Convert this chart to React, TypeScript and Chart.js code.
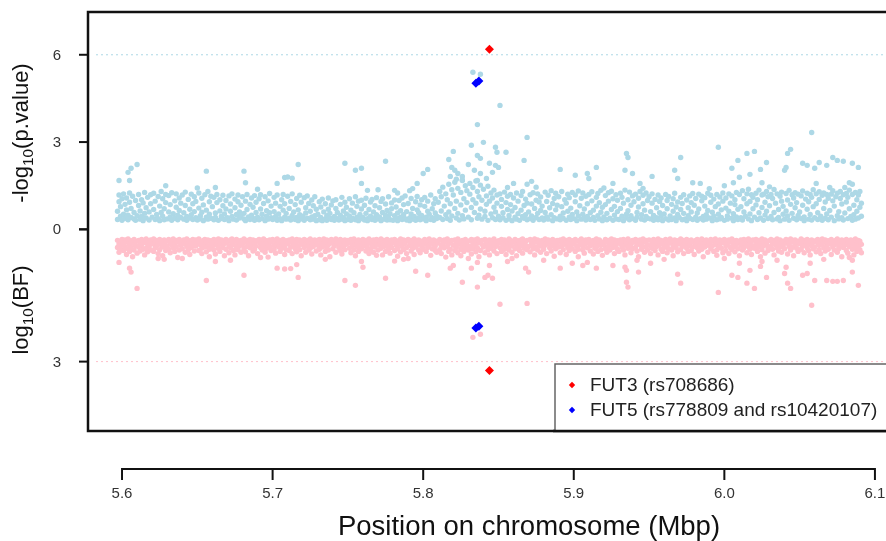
import { useEffect, useRef } from 'react';
import { Chart, registerables } from 'chart.js';
Chart.register(...registerables);

const CW = 900;
const CH = 541;

// axis ticks
const xTicks = [5.6, 5.7, 5.8, 5.9, 6.0, 6.1];
const xTickLabels = ['5.6', '5.7', '5.8', '5.9', '6.0', '6.1'];
const pTicks = [0, 3, 6];
const bfTicks = [0, 3];

// -log10(p) : flat pairs [position (kbp), value]
const pBand = [
  5597,0.34, 5597,0.62, 5598,0.95, 5598,1.18, 5599,0.45, 5599,0.78, 5600,0.31, 5600,1.05,
  5601,0.52, 5601,1.22, 5602,0.38, 5602,0.86, 5603,0.67, 5603,1.08, 5604,0.33, 5604,0.49, 5605,0.93, 5605,1.25, 5606,0.41, 5606,0.72, 5607,1.14, 5608,0.36, 5608,0.58, 5609,0.99, 5609,0.31,
  5610,0.47, 5611,1.2, 5611,0.82, 5612,0.35, 5612,0.63, 5613,1.02, 5613,0.44, 5614,0.3, 5614,0.91, 5615,1.27, 5615,0.55, 5616,0.39, 5616,0.74, 5617,1.1, 5618,0.32, 5618,0.6, 5619,0.88, 5619,1.19,
  5620,0.42, 5621,0.68, 5621,1.24, 5622,0.34, 5622,0.97, 5623,0.51, 5624,1.13, 5624,0.37, 5625,0.8, 5625,0.3, 5626,1.3, 5626,0.58, 5627,0.45, 5627,1.05, 5628,0.33, 5628,0.71, 5629,0.92, 5629,1.2,
  5630,0.36, 5631,0.6, 5631,1.16, 5632,0.43, 5632,0.85, 5633,0.31, 5633,1.26, 5634,0.54, 5635,0.98, 5635,0.38, 5636,0.76, 5636,1.22, 5637,0.33, 5637,0.49, 5638,1.08, 5638,0.65, 5639,0.41, 5639,0.9,
  5640,1.18, 5641,0.35, 5641,0.57, 5642,0.82, 5642,1.28, 5643,0.44, 5643,0.31, 5644,1.03, 5645,0.69, 5645,0.39, 5646,1.21, 5646,0.5, 5647,0.34, 5647,0.88, 5648,1.12, 5648,0.61, 5649,0.4, 5649,0.96,
  5650,0.32, 5651,0.73, 5651,1.25, 5652,0.47, 5652,0.36, 5653,1.07, 5653,0.59, 5654,0.3, 5654,0.84, 5655,1.19, 5656,0.42, 5656,0.66, 5657,1.3, 5657,0.35, 5658,0.95, 5658,0.52, 5659,1.14, 5659,0.38,
  5660,0.78, 5661,0.33, 5661,1.1, 5662,0.56, 5662,0.41, 5663,0.92, 5663,1.2, 5664,0.31, 5665,0.63, 5665,1.02, 5666,0.45, 5666,0.37, 5667,0.81, 5667,1.17, 5668,0.53, 5668,0.34, 5669,0.99, 5669,0.7,
  5670,0.4, 5671,1.15, 5671,0.3, 5672,0.62, 5672,0.87, 5673,0.44, 5673,1.22, 5674,0.35, 5675,0.74, 5675,1.04, 5676,0.51, 5676,0.32, 5677,0.95, 5677,1.18, 5678,0.39, 5678,0.6, 5679,0.83, 5679,0.46,
  5680,1.12, 5681,0.36, 5681,0.55, 5682,0.97, 5682,0.3, 5683,0.68, 5683,1.2, 5684,0.43, 5685,0.86, 5685,0.34, 5686,1.08, 5686,0.49, 5687,0.38, 5687,0.76, 5688,1.16, 5688,0.31, 5689,0.58, 5689,0.93,
  5690,0.42, 5691,1.05, 5691,0.33, 5692,0.7, 5692,1.19, 5693,0.37, 5693,0.52, 5694,0.89, 5695,0.3, 5695,1.12, 5696,0.64, 5696,0.45, 5697,0.98, 5697,0.35, 5698,1.23, 5698,0.57, 5699,0.4, 5699,0.8,
  5700,0.34, 5701,1.1, 5701,0.61, 5702,0.44, 5702,0.9, 5703,0.31, 5703,1.18, 5704,0.53, 5705,0.37, 5705,0.79, 5706,1.02, 5706,0.3, 5707,0.66, 5707,1.2, 5708,0.42, 5708,0.88, 5709,0.35, 5709,0.55,
  5710,1.14, 5711,0.38, 5711,0.72, 5712,0.96, 5712,0.32, 5713,0.48, 5713,1.22, 5714,0.6, 5715,0.34, 5715,0.85, 5716,1.06, 5716,0.41, 5717,0.3, 5717,0.67, 5718,1.17, 5718,0.5, 5719,0.36, 5719,0.93,
  5720,0.45, 5721,1.09, 5721,0.31, 5722,0.74, 5722,0.56, 5723,0.38, 5723,1.15, 5724,0.89, 5725,0.33, 5725,0.62, 5726,1.01, 5726,0.43, 5727,0.35, 5727,0.81, 5728,1.12, 5728,0.47, 5729,0.3, 5729,0.69,
  5730,0.52, 5731,0.95, 5731,0.33, 5732,0.41, 5732,0.77, 5733,1.04, 5733,0.3, 5734,0.6, 5735,0.36, 5735,0.88, 5736,0.47, 5736,0.31, 5737,1.08, 5737,0.69, 5738,0.39, 5738,0.55, 5739,0.84, 5739,0.34,
  5740,0.98, 5741,0.44, 5741,0.31, 5742,0.72, 5742,1.02, 5743,0.37, 5743,0.58, 5744,0.32, 5745,0.86, 5745,0.49, 5746,0.35, 5746,1.1, 5747,0.63, 5747,0.4, 5748,0.3, 5748,0.93, 5749,0.53, 5749,0.76,
  5750,0.34, 5751,1.05, 5751,0.46, 5752,0.31, 5752,0.66, 5753,0.9, 5753,0.38, 5754,0.57, 5755,1.12, 5755,0.33, 5756,0.79, 5756,0.42, 5757,0.3, 5757,0.97, 5758,0.51, 5758,0.36, 5759,0.7, 5759,1.0,
  5760,0.41, 5761,0.32, 5761,0.83, 5762,1.07, 5762,0.55, 5763,0.37, 5763,0.3, 5764,0.68, 5765,0.94, 5765,0.45, 5766,0.34, 5766,1.03, 5767,0.6, 5767,0.39, 5768,0.81, 5768,0.31, 5769,0.5, 5769,1.09,
  5770,0.36, 5771,0.74, 5771,0.43, 5772,0.96, 5772,0.3, 5773,0.58, 5773,1.05, 5774,0.35, 5775,0.48, 5775,0.87, 5776,0.32, 5776,0.65, 5777,1.12, 5777,0.4, 5778,0.54, 5778,0.33, 5779,0.91, 5779,0.71,
  5780,0.31, 5781,1.01, 5781,0.47, 5782,0.38, 5782,0.77, 5783,0.56, 5783,0.3, 5784,0.99, 5785,0.42, 5785,0.64, 5786,1.08, 5786,0.34, 5787,0.85, 5787,0.5, 5788,0.37, 5788,1.15, 5789,0.61, 5789,0.32,
  5790,0.89, 5791,0.39, 5791,0.3, 5792,1.06, 5792,0.53, 5793,0.72, 5793,0.35, 5794,0.44, 5795,0.95, 5795,0.31, 5796,0.67, 5796,1.13, 5797,0.4, 5797,0.57, 5798,0.84, 5798,0.33, 5799,1.02, 5799,0.48,
  5800,0.36, 5801,0.79, 5801,1.1, 5802,0.42, 5802,0.3, 5803,0.62, 5803,0.97, 5804,0.52, 5805,0.34, 5805,1.18, 5806,0.71, 5806,0.4, 5807,0.88, 5807,0.31, 5808,0.56, 5808,1.05, 5809,0.45, 5809,0.37,
  5810,0.93, 5811,1.3, 5811,0.41, 5812,0.63, 5812,1.12, 5813,0.34, 5813,1.45, 5814,0.8, 5815,0.5, 5815,1.22, 5816,0.37, 5816,1.02, 5817,1.55, 5817,0.6, 5818,0.31, 5818,0.88, 5819,1.36, 5819,0.46,
  5820,1.18, 5821,0.72, 5821,1.62, 5822,0.39, 5822,0.97, 5823,1.41, 5823,0.55, 5824,0.32, 5825,1.27, 5825,0.84, 5826,1.7, 5826,0.47, 5827,1.05, 5827,0.36, 5828,1.5, 5828,0.66, 5829,0.92, 5829,1.33,
  5830,0.42, 5831,1.21, 5831,1.58, 5832,0.75, 5832,0.33, 5833,1.44, 5833,1.02, 5834,0.58, 5835,1.66, 5835,0.9, 5836,0.38, 5836,1.3, 5837,1.12, 5837,0.49, 5838,1.52, 5838,0.7, 5839,0.35, 5839,1.0,
  5840,1.38, 5841,0.62, 5841,0.44, 5842,1.15, 5842,0.86, 5843,1.48, 5843,0.31, 5844,0.97, 5845,1.25, 5845,0.53, 5846,0.4, 5846,1.08, 5847,0.76, 5847,1.35, 5848,0.34, 5848,0.6, 5849,1.18, 5849,0.9,
  5850,0.45, 5851,1.22, 5851,0.33, 5852,0.79, 5852,1.03, 5853,0.4, 5853,0.57, 5854,1.28, 5855,0.31, 5855,0.92, 5856,0.68, 5856,1.14, 5857,0.36, 5857,0.48, 5858,0.85, 5858,1.2, 5859,0.3, 5859,0.63,
  5860,1.08, 5861,0.42, 5861,0.75, 5862,1.25, 5862,0.35, 5863,0.54, 5863,0.97, 5864,0.31, 5865,1.16, 5865,0.66, 5866,0.44, 5866,1.3, 5867,0.82, 5867,0.38, 5868,1.04, 5868,0.5, 5869,0.33, 5869,0.9,
  5870,0.6, 5871,1.19, 5871,0.37, 5872,0.87, 5872,0.46, 5873,1.26, 5873,0.31, 5874,0.72, 5875,1.0, 5875,0.41, 5876,0.55, 5876,1.22, 5877,0.34, 5877,0.94, 5878,0.65, 5878,1.11, 5879,0.39, 5879,0.8,
  5880,0.32, 5881,1.28, 5881,0.58, 5882,0.43, 5882,0.96, 5883,1.17, 5883,0.35, 5884,0.74, 5885,1.33, 5885,0.5, 5886,0.3, 5886,0.89, 5887,1.06, 5887,0.4, 5888,0.67, 5888,1.24, 5889,0.36, 5889,0.83,
  5890,1.12, 5891,0.45, 5891,0.33, 5892,0.78, 5892,1.3, 5893,0.56, 5893,0.38, 5894,1.02, 5895,0.31, 5895,0.9, 5896,1.21, 5896,0.62, 5897,0.42, 5897,1.09, 5898,0.34, 5898,0.73, 5899,1.27, 5899,0.51,
  5900,0.37, 5901,0.95, 5901,1.18, 5902,0.3, 5902,0.6, 5903,1.32, 5903,0.46, 5904,0.81, 5905,0.35, 5905,1.07, 5906,0.52, 5906,1.25, 5907,0.39, 5907,0.7, 5908,1.14, 5908,0.32, 5909,0.88, 5909,0.44,
  5910,1.2, 5911,0.57, 5911,0.34, 5912,0.98, 5912,1.29, 5913,0.41, 5913,0.66, 5914,0.31, 5915,1.1, 5915,0.8, 5916,0.47, 5916,1.23, 5917,0.36, 5917,0.92, 5918,0.59, 5918,1.34, 5919,0.3, 5919,0.76,
  5920,0.43, 5921,1.16, 5921,0.85, 5922,0.33, 5922,0.55, 5923,1.26, 5923,0.97, 5924,0.38, 5925,0.68, 5925,1.31, 5926,0.31, 5926,1.05, 5927,0.49, 5927,0.79, 5928,1.19, 5928,0.36, 5929,0.61, 5929,1.0,
  5930,0.34, 5931,1.24, 5931,0.72, 5932,0.45, 5932,1.1, 5933,0.3, 5933,0.9, 5934,1.35, 5935,0.52, 5935,0.39, 5936,1.02, 5936,0.64, 5937,1.28, 5937,0.33, 5938,0.83, 5938,0.47, 5939,1.15, 5939,0.37,
  5940,0.95, 5941,0.31, 5941,1.21, 5942,0.58, 5942,0.42, 5943,1.07, 5943,0.77, 5944,1.3, 5945,0.35, 5945,0.5, 5946,0.88, 5946,1.17, 5947,0.32, 5947,0.66, 5948,1.25, 5948,0.44, 5949,0.99, 5949,0.38,
  5950,1.12, 5951,0.36, 5951,0.61, 5952,0.9, 5952,1.22, 5953,0.31, 5953,0.48, 5954,1.03, 5955,0.74, 5955,0.4, 5956,1.18, 5956,0.33, 5957,0.57, 5957,0.96, 5958,1.08, 5958,0.45, 5959,0.3, 5959,0.82,
  5960,0.53, 5961,1.2, 5961,0.37, 5962,0.71, 5962,0.99, 5963,0.32, 5963,1.13, 5964,0.46, 5965,0.86, 5965,0.34, 5966,1.05, 5966,0.62, 5967,0.39, 5967,1.24, 5968,0.3, 5968,0.77, 5969,0.51, 5969,0.94,
  5970,0.41, 5971,1.1, 5971,0.68, 5972,0.33, 5972,0.89, 5973,1.19, 5973,0.55, 5974,0.36, 5975,1.01, 5975,0.3, 5976,0.74, 5976,0.47, 5977,1.15, 5977,0.38, 5978,0.6, 5978,0.92, 5979,1.23, 5979,0.34,
  5980,0.83, 5981,0.42, 5981,1.06, 5982,0.31, 5982,0.56, 5983,1.21, 5983,0.7, 5984,0.37, 5985,0.98, 5985,1.14, 5986,0.44, 5986,0.32, 5987,0.8, 5987,1.09, 5988,0.5, 5988,0.35, 5989,1.24, 5989,0.65,
  5990,0.39, 5991,0.93, 5991,1.17, 5992,0.3, 5992,0.59, 5993,1.04, 5993,0.45, 5994,0.78, 5995,0.33, 5995,1.2, 5996,0.52, 5996,0.87, 5997,0.36, 5997,1.11, 5998,0.67, 5998,0.41, 5999,0.97, 5999,1.25,
  6000,0.31, 6001,0.73, 6001,1.08, 6002,0.46, 6002,0.35, 6003,1.22, 6003,0.62, 6004,0.9, 6005,0.38, 6005,1.15, 6006,0.54, 6006,0.3, 6007,0.85, 6007,1.02, 6008,0.43, 6008,1.27, 6009,0.34, 6009,0.69,
  6010,1.2, 6011,0.4, 6011,0.78, 6012,1.33, 6012,0.32, 6013,0.6, 6013,1.05, 6014,0.45, 6015,1.22, 6015,0.88, 6016,0.36, 6016,1.38, 6017,0.53, 6017,0.96, 6018,1.19, 6018,0.3, 6019,0.71, 6019,1.1,
  6020,0.42, 6021,1.24, 6021,0.84, 6022,0.34, 6022,1.02, 6023,0.57, 6023,1.35, 6024,0.39, 6025,1.18, 6025,0.75, 6026,0.31, 6026,1.21, 6027,0.49, 6027,0.93, 6028,1.3, 6028,0.62, 6029,0.37, 6029,1.12,
  6030,0.81, 6031,1.2, 6031,0.44, 6032,0.33, 6032,1.06, 6033,1.37, 6033,0.58, 6034,0.9, 6035,0.36, 6035,1.22, 6036,0.68, 6036,0.41, 6037,1.14, 6037,0.3, 6038,0.97, 6038,1.28, 6039,0.52, 6039,0.79,
  6040,0.35, 6041,1.23, 6041,0.63, 6042,0.46, 6042,1.01, 6043,1.34, 6043,0.31, 6044,0.86, 6045,1.19, 6045,0.55, 6046,0.38, 6046,1.08, 6047,0.74, 6047,1.26, 6048,0.33, 6048,0.92, 6049,1.21, 6049,0.48,
  6050,0.6, 6051,1.15, 6051,0.37, 6052,0.83, 6052,1.32, 6053,0.43, 6053,0.3, 6054,1.04, 6055,1.24, 6055,0.69, 6056,0.35, 6056,0.95, 6057,1.2, 6057,0.51, 6058,0.32, 6058,1.1, 6059,0.78, 6059,1.36,
  6060,0.4, 6061,1.22, 6061,0.88, 6062,0.34, 6062,0.57, 6063,1.29, 6063,1.03, 6064,0.45, 6065,0.31, 6065,1.17, 6066,0.72, 6066,1.25, 6067,0.38, 6067,0.94, 6068,1.2, 6068,0.53, 6069,0.33, 6069,1.07,
  6070,0.65, 6071,1.21, 6071,0.42, 6072,0.98, 6072,1.33, 6073,0.3, 6073,0.8, 6074,1.12, 6075,0.47, 6075,1.24, 6076,0.36, 6076,0.61, 6077,1.06, 6077,1.3, 6078,0.4, 6078,0.87, 6079,1.19, 6079,0.32,
  6080,0.56, 6081,1.23, 6081,0.94, 6082,0.37, 6082,1.1, 6083,0.71, 6083,1.35, 6084,0.44, 6085,0.31, 6085,1.2, 6086,0.83, 6086,0.5, 6087,1.27, 6087,0.35, 6088,1.02, 6088,0.62, 6089,1.18, 6089,0.39, 6090,0.76, 6090,1.3, 6091,0.45, 6091,0.9,
];

const pTail = [
  5598,1.68, 5604,1.96, 5606,2.1, 5610,2.23, 5605,1.68, 5629,1.5, 5650,1.42, 5656,2.0, 5662,1.44, 5681,2.0, 5682,1.6, 5690,1.38,
  5703,1.58, 5708,1.78, 5710,1.8, 5713,1.76, 5717,2.23, 5748,2.27, 5755,2.03, 5759,2.1, 5759,1.58, 5763,1.34, 5770,1.36, 5775,2.34,
  5781,1.34, 5783,1.25, 5791,1.33, 5793,1.4, 5796,1.58, 5800,1.92, 5803,2.06, 5817,2.4, 5819,2.13, 5821,2.03, 5823,1.92, 5826,1.82,
  5818,1.82, 5822,1.72, 5826,1.68, 5820,2.68, 5830,2.23, 5832,2.89, 5834,2.03, 5838,1.92, 5836,2.54, 5838,2.44, 5836,3.6, 5840,2.99,
  5844,2.27, 5848,2.2, 5850,2.13, 5848,2.82, 5849,2.65, 5851,4.26, 5855,2.65, 5842,1.75, 5846,1.96, 5836,1.68, 5856,1.44, 5860,1.58,
  5867,2.37, 5869,3.16, 5869,1.55, 5872,1.65, 5875,1.45, 5891,2.06, 5901,1.86, 5909,1.92, 5910,1.75, 5915,2.13, 5920,1.42, 5926,1.58,
  5934,2.03, 5939,1.92, 5935,2.61, 5936,2.47, 5944,1.58, 5946,1.41, 5952,1.82, 5967,2.03, 5969,1.75, 5971,2.47, 5979,1.6, 5984,1.58,
  5990,1.4, 5996,2.82, 6000,1.5, 6005,2.1, 6009,2.37, 6015,2.61, 6020,2.68, 6010,1.79, 6017,1.89, 6024,2.06, 6028,2.3, 6006,1.6,
  6025,1.6, 6030,1.46, 6042,2.61, 6044,2.75, 6040,2.03, 6041,2.13, 6052,2.27, 6055,2.2, 6060,2.1, 6063,2.3, 6068,2.2, 6070,1.44,
  6072,2.47, 6075,2.37, 6079,2.34, 6085,2.27, 6089,2.13, 6058,3.33, 6061,1.58, 6080,1.44, 6083,1.6, 6085,1.55, 5833,5.4, 5838,5.33,
];

// log10(BF) : flat pairs [position (kbp), value]
const bfBand = [
  5597,0.25, 5597,0.41, 5598,0.33, 5598,0.52, 5599,0.27, 5599,0.46, 5600,0.36, 5600,0.23,
  5601,0.3, 5601,0.48, 5602,0.24, 5602,0.39, 5603,0.57, 5603,0.28, 5604,0.44, 5604,0.22, 5605,0.35, 5605,0.5, 5606,0.26, 5606,0.41, 5607,0.62, 5607,0.31, 5608,0.23, 5608,0.47, 5609,0.37, 5609,0.28,
  5610,0.54, 5611,0.25, 5611,0.4, 5612,0.32, 5612,0.49, 5613,0.23, 5613,0.36, 5614,0.45, 5614,0.27, 5615,0.58, 5615,0.3, 5616,0.22, 5616,0.43, 5617,0.34, 5617,0.51, 5618,0.26, 5618,0.39, 5619,0.24, 5619,0.47,
  5620,0.33, 5621,0.22, 5621,0.5, 5622,0.29, 5622,0.42, 5623,0.25, 5623,0.37, 5624,0.55, 5624,0.31, 5625,0.23, 5625,0.46, 5626,0.35, 5626,0.27, 5627,0.6, 5627,0.4, 5628,0.24, 5628,0.32, 5629,0.48, 5629,0.28,
  5630,0.38, 5631,0.23, 5631,0.45, 5632,0.3, 5632,0.53, 5633,0.26, 5633,0.35, 5634,0.42, 5634,0.22, 5635,0.5, 5635,0.33, 5636,0.25, 5636,0.4, 5637,0.64, 5637,0.29, 5638,0.23, 5638,0.47, 5639,0.36, 5639,0.27,
  5640,0.44, 5641,0.24, 5641,0.32, 5642,0.52, 5642,0.28, 5643,0.39, 5643,0.22, 5644,0.46, 5644,0.34, 5645,0.26, 5645,0.57, 5646,0.3, 5646,0.41, 5647,0.23, 5647,0.36, 5648,0.49, 5648,0.27, 5649,0.38, 5649,0.24,
  5650,0.31, 5651,0.48, 5651,0.22, 5652,0.35, 5652,0.27, 5653,0.43, 5653,0.55, 5654,0.25, 5654,0.33, 5655,0.4, 5655,0.23, 5656,0.51, 5656,0.29, 5657,0.37, 5657,0.24, 5658,0.45, 5658,0.62, 5659,0.3, 5659,0.26,
  5660,0.39, 5661,0.23, 5661,0.47, 5662,0.31, 5662,0.56, 5663,0.26, 5663,0.36, 5664,0.22, 5664,0.43, 5665,0.29, 5665,0.5, 5666,0.24, 5666,0.34, 5667,0.41, 5667,0.27, 5668,0.6, 5668,0.32, 5669,0.23, 5669,0.45,
  5670,0.28, 5671,0.37, 5671,0.53, 5672,0.24, 5672,0.42, 5673,0.3, 5673,0.22, 5674,0.48, 5674,0.35, 5675,0.26, 5675,0.58, 5676,0.4, 5676,0.23, 5677,0.33, 5677,0.46, 5678,0.27, 5678,0.38, 5679,0.25, 5679,0.52,
  5680,0.34, 5681,0.22, 5681,0.44, 5682,0.29, 5682,0.51, 5683,0.25, 5683,0.39, 5684,0.32, 5684,0.6, 5685,0.23, 5685,0.42, 5686,0.36, 5686,0.27, 5687,0.49, 5687,0.24, 5688,0.31, 5688,0.45, 5689,0.26, 5689,0.38,
  5690,0.55, 5691,0.28, 5691,0.23, 5692,0.41, 5692,0.33, 5693,0.47, 5693,0.25, 5694,0.37, 5694,0.22, 5695,0.52, 5695,0.3, 5696,0.26, 5696,0.43, 5697,0.34, 5697,0.63, 5698,0.24, 5698,0.39, 5699,0.29, 5699,0.48,
  5700,0.23, 5701,0.36, 5701,0.45, 5702,0.27, 5702,0.54, 5703,0.32, 5703,0.22, 5704,0.4, 5704,0.28, 5705,0.5, 5705,0.25, 5706,0.35, 5706,0.43, 5707,0.23, 5707,0.3, 5708,0.57, 5708,0.38, 5709,0.26, 5709,0.46,
  5710,0.33, 5711,0.24, 5711,0.48, 5712,0.29, 5712,0.4, 5713,0.22, 5713,0.55, 5714,0.36, 5714,0.26, 5715,0.44, 5715,0.31, 5716,0.23, 5716,0.51, 5717,0.38, 5717,0.27, 5718,0.46, 5718,0.24, 5719,0.34, 5719,0.6,
  5720,0.28, 5721,0.41, 5721,0.23, 5722,0.52, 5722,0.33, 5723,0.25, 5723,0.37, 5724,0.47, 5724,0.29, 5725,0.22, 5725,0.43, 5726,0.35, 5726,0.56, 5727,0.26, 5727,0.39, 5728,0.24, 5728,0.31, 5729,0.49, 5729,0.27,
  5730,0.36, 5731,0.23, 5731,0.45, 5732,0.3, 5732,0.58, 5733,0.25, 5733,0.4, 5734,0.33, 5734,0.22, 5735,0.5, 5735,0.28, 5736,0.42, 5736,0.24, 5737,0.35, 5737,0.47, 5738,0.26, 5738,0.62, 5739,0.31, 5739,0.23,
  5740,0.44, 5741,0.27, 5741,0.37, 5742,0.22, 5742,0.52, 5743,0.32, 5743,0.25, 5744,0.41, 5744,0.29, 5745,0.48, 5745,0.23, 5746,0.35, 5746,0.56, 5747,0.26, 5747,0.39, 5748,0.24, 5748,0.46, 5749,0.3, 5749,0.34,
  5750,0.25, 5751,0.43, 5751,0.31, 5752,0.53, 5752,0.23, 5753,0.37, 5753,0.27, 5754,0.47, 5754,0.22, 5755,0.34, 5755,0.6, 5756,0.29, 5756,0.4, 5757,0.24, 5757,0.5, 5758,0.32, 5758,0.26, 5759,0.44, 5759,0.36,
  5760,0.23, 5761,0.38, 5761,0.28, 5762,0.49, 5762,0.25, 5763,0.42, 5763,0.33, 5764,0.55, 5764,0.22, 5765,0.3, 5765,0.45, 5766,0.26, 5766,0.36, 5767,0.24, 5767,0.52, 5768,0.4, 5768,0.29, 5769,0.34, 5769,0.23,
  5770,0.47, 5771,0.27, 5771,0.35, 5772,0.22, 5772,0.43, 5773,0.31, 5773,0.58, 5774,0.25, 5774,0.39, 5775,0.28, 5775,0.5, 5776,0.23, 5776,0.37, 5777,0.45, 5777,0.26, 5778,0.33, 5778,0.54, 5779,0.24, 5779,0.41,
  5780,0.3, 5781,0.48, 5781,0.23, 5782,0.36, 5782,0.27, 5783,0.44, 5783,0.61, 5784,0.25, 5784,0.34, 5785,0.22, 5785,0.51, 5786,0.39, 5786,0.29, 5787,0.24, 5787,0.46, 5788,0.32, 5788,0.26, 5789,0.42, 5789,0.55,
  5790,0.23, 5791,0.37, 5791,0.28, 5792,0.49, 5792,0.25, 5793,0.33, 5793,0.43, 5794,0.22, 5794,0.57, 5795,0.3, 5795,0.4, 5796,0.26, 5796,0.35, 5797,0.47, 5797,0.24, 5798,0.31, 5798,0.53, 5799,0.27, 5799,0.38,
  5800,0.45, 5801,0.23, 5801,0.34, 5802,0.28, 5802,0.5, 5803,0.25, 5803,0.41, 5804,0.36, 5804,0.22, 5805,0.59, 5805,0.3, 5806,0.26, 5806,0.44, 5807,0.33, 5807,0.24, 5808,0.48, 5808,0.38, 5809,0.27, 5809,0.52,
  5810,0.31, 5811,0.23, 5811,0.46, 5812,0.37, 5812,0.55, 5813,0.26, 5813,0.34, 5814,0.42, 5814,0.24, 5815,0.63, 5815,0.29, 5816,0.39, 5816,0.22, 5817,0.5, 5817,0.32, 5818,0.27, 5818,0.45, 5819,0.58, 5819,0.25,
  5820,0.36, 5821,0.24, 5821,0.48, 5822,0.3, 5822,0.41, 5823,0.22, 5823,0.53, 5824,0.34, 5824,0.27, 5825,0.45, 5825,0.6, 5826,0.25, 5826,0.38, 5827,0.31, 5827,0.5, 5828,0.23, 5828,0.43, 5829,0.35, 5829,0.28,
  5830,0.47, 5831,0.26, 5831,0.39, 5832,0.23, 5832,0.56, 5833,0.33, 5833,0.44, 5834,0.28, 5834,0.24, 5835,0.51, 5835,0.36, 5836,0.22, 5836,0.42, 5837,0.3, 5837,0.62, 5838,0.27, 5838,0.48, 5839,0.34, 5839,0.25,
  5840,0.4, 5841,0.23, 5841,0.53, 5842,0.32, 5842,0.27, 5843,0.46, 5843,0.37, 5844,0.24, 5844,0.58, 5845,0.3, 5845,0.43, 5846,0.25, 5846,0.35, 5847,0.49, 5847,0.22, 5848,0.39, 5848,0.28, 5849,0.55, 5849,0.33,
  5850,0.26, 5851,0.42, 5851,0.31, 5852,0.23, 5852,0.5, 5853,0.36, 5853,0.27, 5854,0.45, 5854,0.24, 5855,0.34, 5855,0.57, 5856,0.29, 5856,0.4, 5857,0.22, 5857,0.47, 5858,0.33, 5858,0.25, 5859,0.38, 5859,0.52,
  5860,0.28, 5861,0.44, 5861,0.23, 5862,0.35, 5862,0.6, 5863,0.26, 5863,0.41, 5864,0.31, 5864,0.48, 5865,0.24, 5865,0.37, 5866,0.22, 5866,0.54, 5867,0.3, 5867,0.43, 5868,0.27, 5868,0.36, 5869,0.25, 5869,0.46,
  5870,0.39, 5871,0.23, 5871,0.51, 5872,0.32, 5872,0.26, 5873,0.44, 5873,0.35, 5874,0.22, 5874,0.58, 5875,0.29, 5875,0.41, 5876,0.24, 5876,0.47, 5877,0.34, 5877,0.27, 5878,0.52, 5878,0.38, 5879,0.25, 5879,0.31,
  5880,0.45, 5881,0.22, 5881,0.36, 5882,0.28, 5882,0.55, 5883,0.33, 5883,0.24, 5884,0.42, 5884,0.3, 5885,0.49, 5885,0.26, 5886,0.38, 5886,0.23, 5887,0.61, 5887,0.35, 5888,0.27, 5888,0.44, 5889,0.32, 5889,0.25,
  5890,0.4, 5891,0.24, 5891,0.53, 5892,0.3, 5892,0.37, 5893,0.22, 5893,0.46, 5894,0.34, 5894,0.27, 5895,0.57, 5895,0.25, 5896,0.41, 5896,0.31, 5897,0.23, 5897,0.48, 5898,0.36, 5898,0.28, 5899,0.44, 5899,0.26,
  5900,0.33, 5901,0.5, 5901,0.23, 5902,0.39, 5902,0.27, 5903,0.45, 5903,0.62, 5904,0.25, 5904,0.35, 5905,0.3, 5905,0.22, 5906,0.47, 5906,0.38, 5907,0.26, 5907,0.54, 5908,0.32, 5908,0.24, 5909,0.42, 5909,0.29,
  5910,0.23, 5911,0.37, 5911,0.49, 5912,0.27, 5912,0.34, 5913,0.56, 5913,0.25, 5914,0.43, 5914,0.3, 5915,0.22, 5915,0.4, 5916,0.33, 5916,0.5, 5917,0.26, 5917,0.24, 5918,0.46, 5918,0.36, 5919,0.29, 5919,0.59,
  5920,0.35, 5921,0.23, 5921,0.44, 5922,0.28, 5922,0.52, 5923,0.25, 5923,0.38, 5924,0.31, 5924,0.47, 5925,0.22, 5925,0.34, 5926,0.41, 5926,0.27, 5927,0.55, 5927,0.24, 5928,0.37, 5928,0.3, 5929,0.45, 5929,0.26,
  5930,0.5, 5931,0.24, 5931,0.33, 5932,0.4, 5932,0.28, 5933,0.23, 5933,0.47, 5934,0.36, 5934,0.58, 5935,0.26, 5935,0.31, 5936,0.43, 5936,0.22, 5937,0.38, 5937,0.27, 5938,0.53, 5938,0.34, 5939,0.25, 5939,0.44,
  5940,0.29, 5941,0.41, 5941,0.23, 5942,0.49, 5942,0.35, 5943,0.26, 5943,0.62, 5944,0.32, 5944,0.24, 5945,0.45, 5945,0.38, 5946,0.22, 5946,0.3, 5947,0.52, 5947,0.27, 5948,0.4, 5948,0.25, 5949,0.35, 5949,0.47,
  5950,0.24, 5951,0.37, 5951,0.55, 5952,0.28, 5952,0.43, 5953,0.23, 5953,0.33, 5954,0.48, 5954,0.26, 5955,0.39, 5955,0.3, 5956,0.22, 5956,0.58, 5957,0.35, 5957,0.27, 5958,0.45, 5958,0.25, 5959,0.32, 5959,0.5,
  5960,0.41, 5961,0.23, 5961,0.29, 5962,0.53, 5962,0.36, 5963,0.25, 5963,0.44, 5964,0.31, 5964,0.22, 5965,0.47, 5965,0.27, 5966,0.38, 5966,0.6, 5967,0.24, 5967,0.34, 5968,0.42, 5968,0.28, 5969,0.51, 5969,0.26,
  5970,0.33, 5971,0.22, 5971,0.46, 5972,0.3, 5972,0.39, 5973,0.25, 5973,0.55, 5974,0.35, 5974,0.27, 5975,0.43, 5975,0.23, 5976,0.5, 5976,0.31, 5977,0.26, 5977,0.37, 5978,0.24, 5978,0.48, 5979,0.4, 5979,0.29,
  5980,0.57, 5981,0.25, 5981,0.34, 5982,0.42, 5982,0.23, 5983,0.3, 5983,0.49, 5984,0.27, 5984,0.37, 5985,0.22, 5985,0.45, 5986,0.33, 5986,0.62, 5987,0.26, 5987,0.4, 5988,0.28, 5988,0.24, 5989,0.52, 5989,0.36,
  5990,0.31, 5991,0.44, 5991,0.23, 5992,0.38, 5992,0.27, 5993,0.5, 5993,0.25, 5994,0.34, 5994,0.22, 5995,0.47, 5995,0.59, 5996,0.29, 5996,0.4, 5997,0.24, 5997,0.35, 5998,0.43, 5998,0.26, 5999,0.53, 5999,0.3,
  6000,0.23, 6001,0.37, 6001,0.48, 6002,0.27, 6002,0.32, 6003,0.55, 6003,0.24, 6004,0.41, 6004,0.29, 6005,0.22, 6005,0.46, 6006,0.35, 6006,0.26, 6007,0.51, 6007,0.39, 6008,0.25, 6008,0.33, 6009,0.44, 6009,0.28,
  6010,0.6, 6011,0.24, 6011,0.36, 6012,0.3, 6012,0.47, 6013,0.23, 6013,0.42, 6014,0.27, 6014,0.34, 6015,0.53, 6015,0.25, 6016,0.39, 6016,0.22, 6017,0.45, 6017,0.31, 6018,0.26, 6018,0.57, 6019,0.37, 6019,0.24,
  6020,0.43, 6021,0.28, 6021,0.23, 6022,0.5, 6022,0.35, 6023,0.25, 6023,0.4, 6024,0.32, 6024,0.62, 6025,0.22, 6025,0.46, 6026,0.29, 6026,0.37, 6027,0.24, 6027,0.54, 6028,0.34, 6028,0.27, 6029,0.41, 6029,0.48,
  6030,0.26, 6031,0.38, 6031,0.23, 6032,0.45, 6032,0.31, 6033,0.58, 6033,0.25, 6034,0.35, 6034,0.28, 6035,0.42, 6035,0.22, 6036,0.49, 6036,0.33, 6037,0.24, 6037,0.4, 6038,0.3, 6038,0.52, 6039,0.27, 6039,0.36,
  6040,0.44, 6041,0.23, 6041,0.31, 6042,0.56, 6042,0.26, 6043,0.39, 6043,0.34, 6044,0.22, 6044,0.47, 6045,0.29, 6045,0.41, 6046,0.25, 6046,0.6, 6047,0.36, 6047,0.24, 6048,0.43, 6048,0.3, 6049,0.27, 6049,0.5,
  6050,0.33, 6051,0.22, 6051,0.45, 6052,0.38, 6052,0.27, 6053,0.53, 6053,0.25, 6054,0.35, 6054,0.3, 6055,0.42, 6055,0.23, 6056,0.48, 6056,0.32, 6057,0.26, 6057,0.58, 6058,0.37, 6058,0.24, 6059,0.44, 6059,0.29,
  6060,0.4, 6061,0.25, 6061,0.51, 6062,0.31, 6062,0.23, 6063,0.46, 6063,0.36, 6064,0.27, 6064,0.55, 6065,0.22, 6065,0.34, 6066,0.42, 6066,0.28, 6067,0.24, 6067,0.49, 6068,0.38, 6068,0.3, 6069,0.26, 6069,0.45,
  6070,0.33, 6071,0.23, 6071,0.57, 6072,0.4, 6072,0.27, 6073,0.35, 6073,0.47, 6074,0.25, 6074,0.3, 6075,0.52, 6075,0.22, 6076,0.38, 6076,0.44, 6077,0.26, 6077,0.32, 6078,0.62, 6078,0.24, 6079,0.41, 6079,0.29,
  6080,0.36, 6081,0.23, 6081,0.48, 6082,0.3, 6082,0.54, 6083,0.26, 6083,0.39, 6084,0.33, 6084,0.24, 6085,0.45, 6085,0.28, 6086,0.58, 6086,0.35, 6087,0.22, 6087,0.42, 6088,0.31, 6088,0.5, 6089,0.25, 6089,0.37, 6090,0.46, 6090,0.27, 6091,0.34, 6091,0.53,
];

const bfTail = [
  5598,0.75, 5605,0.88, 5606,0.97, 5610,1.34, 5624,0.66, 5628,0.68, 5640,0.66, 5656,1.16, 5662,0.73, 5672,0.7, 5681,1.04, 5692,0.64,
  5703,0.88, 5708,0.9, 5712,0.89, 5716,0.8, 5717,1.09, 5735,0.68, 5748,1.16, 5755,1.27, 5759,0.73, 5760,0.86, 5769,0.59, 5775,1.11,
  5781,0.72, 5787,0.68, 5790,0.66, 5795,0.95, 5803,1.04, 5818,0.88, 5820,0.82, 5826,1.2, 5830,0.66, 5832,0.88, 5836,0.75, 5836,1.31,
  5841,1.09, 5843,1.04, 5846,1.11, 5844,0.82, 5851,1.7, 5856,0.73, 5859,0.66, 5868,0.88, 5870,0.97, 5869,1.68, 5880,0.7, 5891,0.88,
  5899,0.77, 5906,0.82, 5909,0.75, 5915,0.88, 5926,0.82, 5934,0.86, 5935,0.93, 5935,1.2, 5936,1.31, 5942,0.7, 5943,0.97, 5951,0.77,
  5960,0.68, 5969,1.02, 5971,1.22, 5996,1.43, 6000,0.66, 6005,1.04, 6009,1.09, 6010,0.77, 6017,0.93, 6015,1.22, 6020,1.34, 6024,0.84,
  6025,0.73, 6028,1.09, 6035,0.7, 6040,1.0, 6041,0.86, 6042,1.22, 6044,1.34, 6052,1.04, 6055,1.0, 6058,1.72, 6057,0.77, 6060,1.16,
  6066,0.68, 6068,1.16, 6072,1.18, 6075,1.18, 6079,1.16, 6085,0.97, 6089,1.27, 6083,0.64, 6085,0.7, 5833,2.45, 5838,2.38,
];

// highlighted SNPs
const fut3Pos = [5844];
const fut3P = [6.19];
const fut3BF = [3.2];
const fut5Pos = [5835, 5837];
const fut5P = [5.02, 5.1];
const fut5BF = [2.24, 2.2];

const legendLabels = ['FUT3 (rs708686)', 'FUT5 (rs778809 and rs10420107)'];
const legendColors = ['#ff0000', '#0000ff'];

const BLUE = '#add8e6';
const PINK = '#ffc0cb';
const FONT = '"Liberation Sans", Arial, Helvetica, sans-serif';

function pairs(flat: number[]) {
  const out: { x: number; y: number }[] = [];
  for (let i = 0; i + 1 < flat.length; i += 2) out.push({ x: flat[i] / 1000, y: flat[i + 1] });
  return out;
}
function zipPts(pos: number[], vals: number[]) {
  return pos.map((p, i) => ({ x: p / 1000, y: vals[i] }));
}

function drawRotTitle(ctx: CanvasRenderingContext2D, parts: [string, boolean][], cx: number, cy: number, size: number) {
  const sub = size * 0.7;
  let total = 0;
  const widths = parts.map(([t, s]) => {
    ctx.font = `${s ? sub : size}px ${FONT}`;
    const w = ctx.measureText(t).width;
    total += w;
    return w;
  });
  ctx.save();
  ctx.translate(cx, cy);
  ctx.rotate(-Math.PI / 2);
  ctx.textBaseline = 'middle';
  ctx.textAlign = 'left';
  let x = -total / 2;
  parts.forEach(([t, s], i) => {
    ctx.font = `${s ? sub : size}px ${FONT}`;
    ctx.fillText(t, x, s ? size * 0.3 : 0);
    x += widths[i];
  });
  ctx.restore();
}

const decor = {
  id: 'decor',
  beforeDatasetsDraw(chart: any) {
    const { ctx, chartArea: a, scales } = chart;
    ctx.save();
    ctx.lineWidth = 1;
    ctx.setLineDash([2, 3]);
    ctx.strokeStyle = BLUE;
    let y = scales.yP.getPixelForValue(6);
    ctx.beginPath(); ctx.moveTo(a.left + 8, y); ctx.lineTo(a.right, y); ctx.stroke();
    ctx.strokeStyle = PINK;
    y = scales.yB.getPixelForValue(3);
    ctx.beginPath(); ctx.moveTo(a.left + 8, y); ctx.lineTo(a.right, y); ctx.stroke();
    ctx.restore();
  },
  afterDatasetsDraw(chart: any) {
    const { ctx, chartArea: a, scales } = chart;
    const xs = scales.x;
    ctx.save();
    // box
    ctx.strokeStyle = '#111';
    ctx.lineWidth = 2.5;
    ctx.strokeRect(a.left, a.top, a.right - a.left, a.bottom - a.top);
    // y ticks
    ctx.lineWidth = 2;
    ctx.fillStyle = '#333';
    ctx.font = `15px ${FONT}`;
    ctx.textAlign = 'center';
    ctx.textBaseline = 'middle';
    pTicks.forEach((v) => {
      const y = scales.yP.getPixelForValue(v);
      ctx.beginPath(); ctx.moveTo(a.left - 9, y); ctx.lineTo(a.left, y); ctx.stroke();
      ctx.fillText(String(v), 57, y + 1);
    });
    bfTicks.forEach((v) => {
      const y = scales.yB.getPixelForValue(v);
      ctx.beginPath(); ctx.moveTo(a.left - 9, y); ctx.lineTo(a.left, y); ctx.stroke();
      if (v !== 0) ctx.fillText(String(v), 57, y + 1);
    });
    // x axis
    const axY = 469;
    ctx.lineWidth = 2;
    ctx.beginPath();
    ctx.moveTo(xs.getPixelForValue(xTicks[0]), axY);
    ctx.lineTo(xs.getPixelForValue(xTicks[xTicks.length - 1]), axY);
    ctx.stroke();
    ctx.font = `15px ${FONT}`;
    xTicks.forEach((v, i) => {
      const x = xs.getPixelForValue(v);
      ctx.beginPath(); ctx.moveTo(x, axY - 1); ctx.lineTo(x, axY + 11); ctx.stroke();
      ctx.fillText(xTickLabels[i], x, axY + 25);
    });
    // titles
    ctx.fillStyle = '#111';
    ctx.font = `27.5px ${FONT}`;
    ctx.fillText('Position on chromosome (Mbp)', 529, 527);
    drawRotTitle(ctx, [['-log', false], ['10', true], ['(p.value)', false]], 22, 133, 22);
    drawRotTitle(ctx, [['log', false], ['10', true], ['(BF)', false]], 22, 310, 22);
    // legend
    const lx = 555, ly = 364;
    ctx.fillStyle = '#fff';
    ctx.fillRect(lx, ly, CW - lx, a.bottom - ly);
    ctx.strokeStyle = '#666';
    ctx.lineWidth = 1.5;
    ctx.strokeRect(lx, ly, CW - lx + 10, a.bottom - ly);
    ctx.strokeStyle = '#111';
    ctx.lineWidth = 2.5;
    ctx.beginPath(); ctx.moveTo(lx - 2, a.bottom); ctx.lineTo(CW, a.bottom); ctx.stroke();
    ctx.font = `19px ${FONT}`;
    ctx.textAlign = 'left';
    legendLabels.forEach((t, i) => {
      const y = 385 + i * 25;
      ctx.fillStyle = legendColors[i];
      const r = 3.2;
      ctx.beginPath();
      ctx.moveTo(572, y - r); ctx.lineTo(572 + r, y); ctx.lineTo(572, y + r); ctx.lineTo(572 - r, y); ctx.closePath();
      ctx.fill();
      ctx.fillStyle = '#222';
      ctx.fillText(t, 590, y + 1);
    });
    ctx.restore();
  },
};

export default function App() {
  const ref = useRef<HTMLCanvasElement>(null);
  useEffect(() => {
    document.body.style.margin = '0';
    const pts = (data: any[], color: string, axis: string, style: any = 'circle', radius = 2.7) => ({
      data,
      yAxisID: axis,
      backgroundColor: color,
      borderColor: color,
      borderWidth: 0,
      pointStyle: style,
      pointRadius: radius,
      pointHoverRadius: radius,
      showLine: false,
    });
    const chart = new Chart(ref.current as HTMLCanvasElement, {
      type: 'scatter',
      data: {
        datasets: [
          pts(zipPts(fut3Pos, fut3P), '#ff0000', 'yP', 'rectRot', 4.5),
          pts(zipPts(fut3Pos, fut3BF), '#ff0000', 'yB', 'rectRot', 4.5),
          pts(zipPts(fut5Pos, fut5P), '#0000ff', 'yP', 'rectRot', 4.5),
          pts(zipPts(fut5Pos, fut5BF), '#0000ff', 'yB', 'rectRot', 4.5),
          pts(pairs(pTail), BLUE, 'yP'),
          pts(pairs(bfTail), PINK, 'yB'),
          pts(pairs(pBand), BLUE, 'yP'),
          pts(pairs(bfBand), PINK, 'yB'),
        ],
      },
      options: {
        animation: false,
        responsive: false,
        maintainAspectRatio: false,
        events: [],
        layout: { padding: { left: 88, top: 12, right: CW - 893, bottom: CH - 431 } },
        plugins: { legend: { display: false }, tooltip: { enabled: false }, title: { display: false } },
        scales: {
          x: { type: 'linear', min: 5.5774, max: 6.112, display: false },
          yP: { type: 'linear', position: 'left', min: -6.93, max: 7.47, display: false },
          yB: { type: 'linear', position: 'left', min: -4.93, max: 4.574, reverse: true, display: false },
        },
      },
      plugins: [decor],
    });
    return () => chart.destroy();
  }, []);
  return (
    <div style={{ position: 'fixed', left: 0, top: 0, width: 886, height: 541, overflow: 'hidden', background: '#fff' }}>
      <canvas ref={ref} width={CW} height={CH} style={{ display: 'block', width: CW, height: CH }} />
    </div>
  );
}
